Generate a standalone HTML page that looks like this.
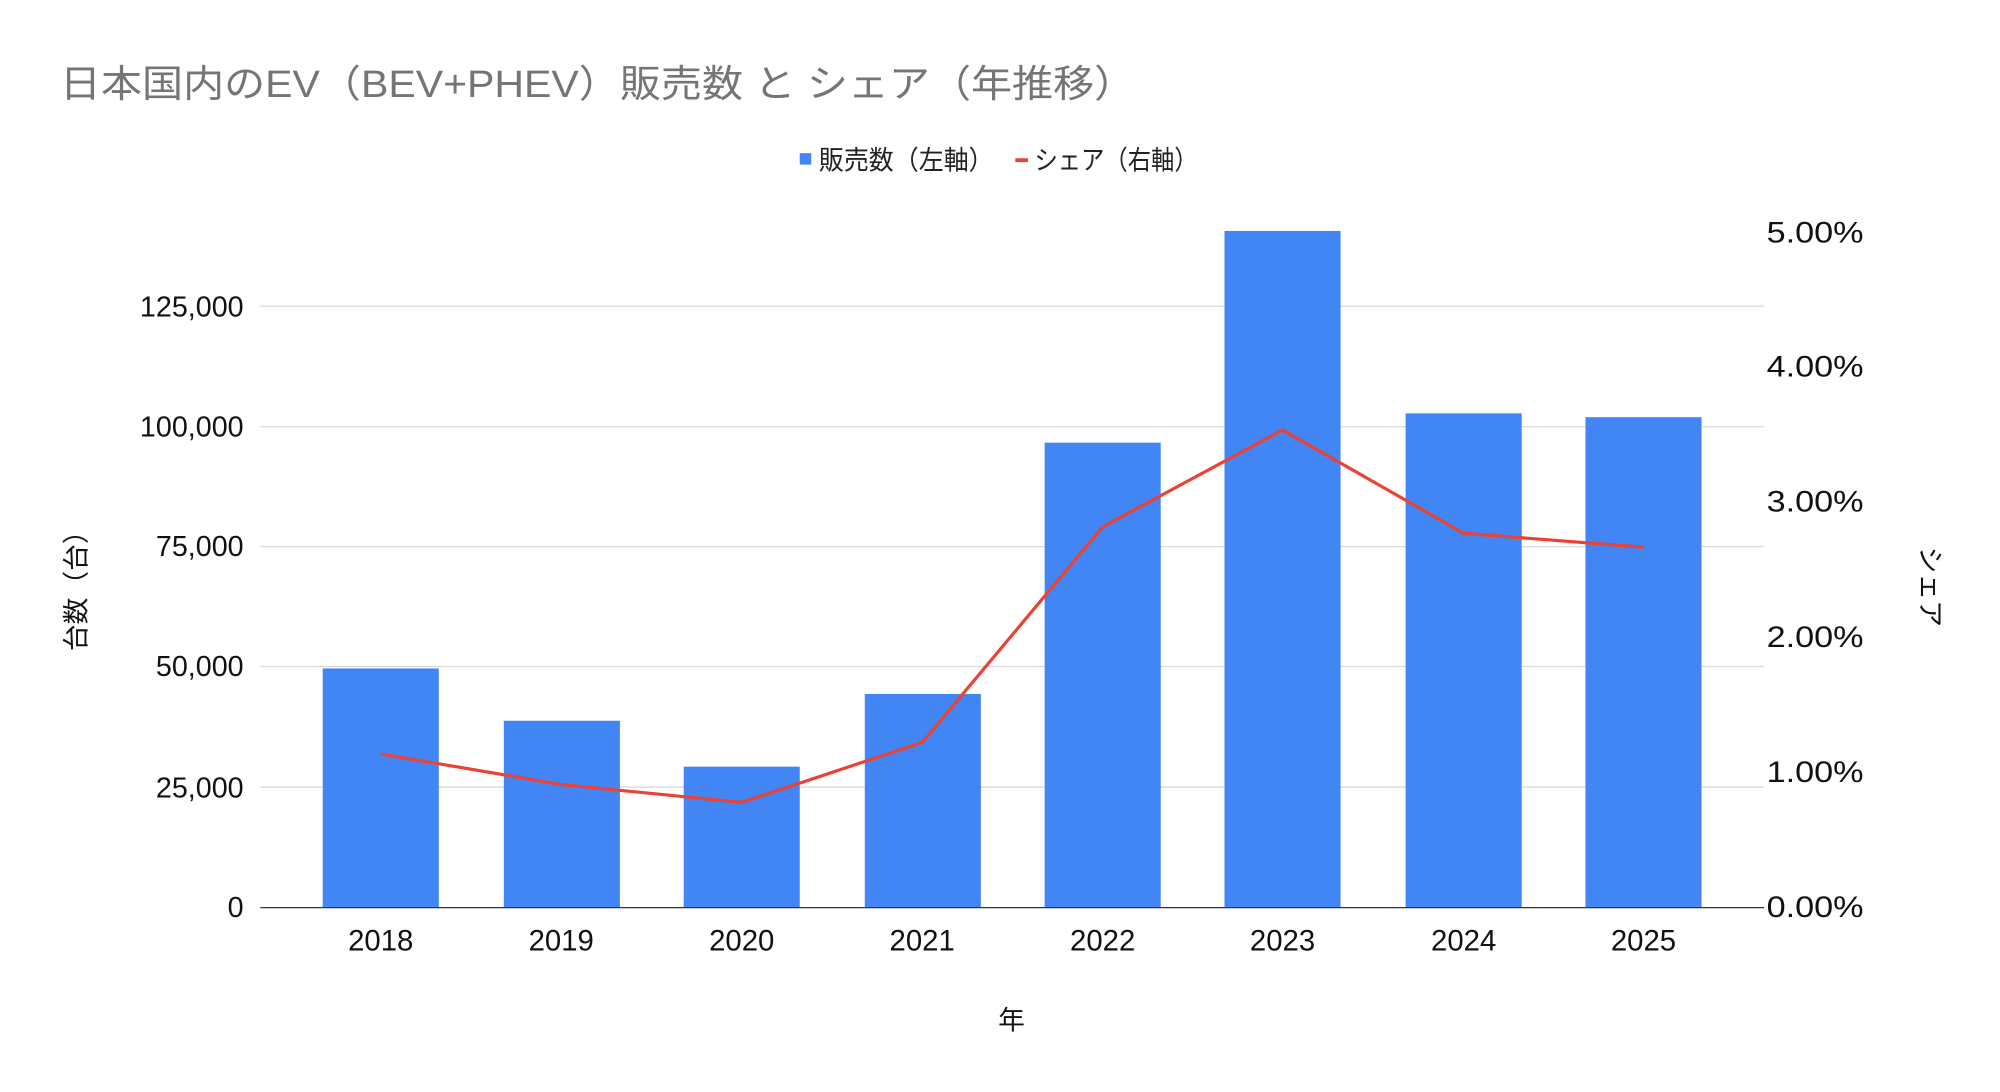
<!DOCTYPE html>
<html><head><meta charset="utf-8"><style>
html,body{margin:0;padding:0;background:#fff;}
svg{display:block;}
text{font-family:"Liberation Sans","Noto Sans CJK JP",sans-serif;}
</style></head><body>
<svg width="2000" height="1092" viewBox="0 0 1568 856" xmlns="http://www.w3.org/2000/svg">
<rect width="1568" height="856" fill="#fff"/>
<text x="47" y="76" font-size="30" fill="#757575" textLength="843" lengthAdjust="spacingAndGlyphs">日本国内のEV（BEV+PHEV）販売数 と シェア（年推移）</text>
<rect x="627" y="120" width="9" height="9" fill="#4285f4"/>
<text x="642" y="133" font-size="21" fill="#222" textLength="137" lengthAdjust="spacingAndGlyphs">販売数（左軸）</text>
<rect x="796" y="124" width="10" height="3" fill="#ea4335"/>
<text x="811" y="133" font-size="21" fill="#222" textLength="128" lengthAdjust="spacingAndGlyphs">シェア（右軸）</text>
<g stroke="#d9d9d9" stroke-width="1">
<line x1="204" x2="1383" y1="617" y2="617"/>
<line x1="204" x2="1383" y1="522.5" y2="522.5"/>
<line x1="204" x2="1383" y1="428.5" y2="428.5"/>
<line x1="204" x2="1383" y1="334.5" y2="334.5"/>
<line x1="204" x2="1383" y1="240" y2="240"/>
</g>
<g font-size="22.5" fill="#111" text-anchor="end">
<text x="191" y="719">0</text>
<text x="191" y="625">25,000</text>
<text x="191" y="530">50,000</text>
<text x="191" y="436">75,000</text>
<text x="191" y="342">100,000</text>
<text x="191" y="248">125,000</text>
</g>
<g font-size="23" fill="#111" text-anchor="start">
<text x="1385" y="719" textLength="76" lengthAdjust="spacingAndGlyphs">0.00%</text>
<text x="1385" y="613" textLength="76" lengthAdjust="spacingAndGlyphs">1.00%</text>
<text x="1385" y="507" textLength="76" lengthAdjust="spacingAndGlyphs">2.00%</text>
<text x="1385" y="401" textLength="76" lengthAdjust="spacingAndGlyphs">3.00%</text>
<text x="1385" y="295" textLength="76" lengthAdjust="spacingAndGlyphs">4.00%</text>
<text x="1385" y="190" textLength="76" lengthAdjust="spacingAndGlyphs">5.00%</text>
</g>
<g fill="#4285f4">
<rect x="253" y="524" width="91" height="187"/>
<rect x="395" y="565" width="91" height="146"/>
<rect x="536" y="601" width="91" height="110"/>
<rect x="678" y="544" width="91" height="167"/>
<rect x="819" y="347" width="91" height="364"/>
<rect x="960" y="181" width="91" height="530"/>
<rect x="1102" y="324" width="91" height="387"/>
<rect x="1243" y="327" width="91" height="384"/>
</g>
<line x1="204" x2="1383" y1="711.5" y2="711.5" stroke="#333" stroke-width="1"/>
<polyline fill="none" stroke="#ea4335" stroke-width="2.5" stroke-linejoin="round" points="298.5,591 440,615 581.5,629 723,582 864.5,413 1005.5,337 1147.5,418 1288.5,429"/>
<g font-size="23" fill="#111" text-anchor="middle">
<text x="298.5" y="745">2018</text>
<text x="440" y="745">2019</text>
<text x="581.5" y="745">2020</text>
<text x="723" y="745">2021</text>
<text x="864.5" y="745">2022</text>
<text x="1005.5" y="745">2023</text>
<text x="1147.5" y="745">2024</text>
<text x="1288.5" y="745">2025</text>
<text x="793" y="807" font-size="21">年</text>
</g>
<text transform="translate(67,458) rotate(-90)" font-size="21" fill="#111" text-anchor="middle">台数（台）</text>
<text transform="translate(1506,460) rotate(90)" font-size="21" fill="#111" text-anchor="middle">シェア</text>
</svg>
</body></html>
